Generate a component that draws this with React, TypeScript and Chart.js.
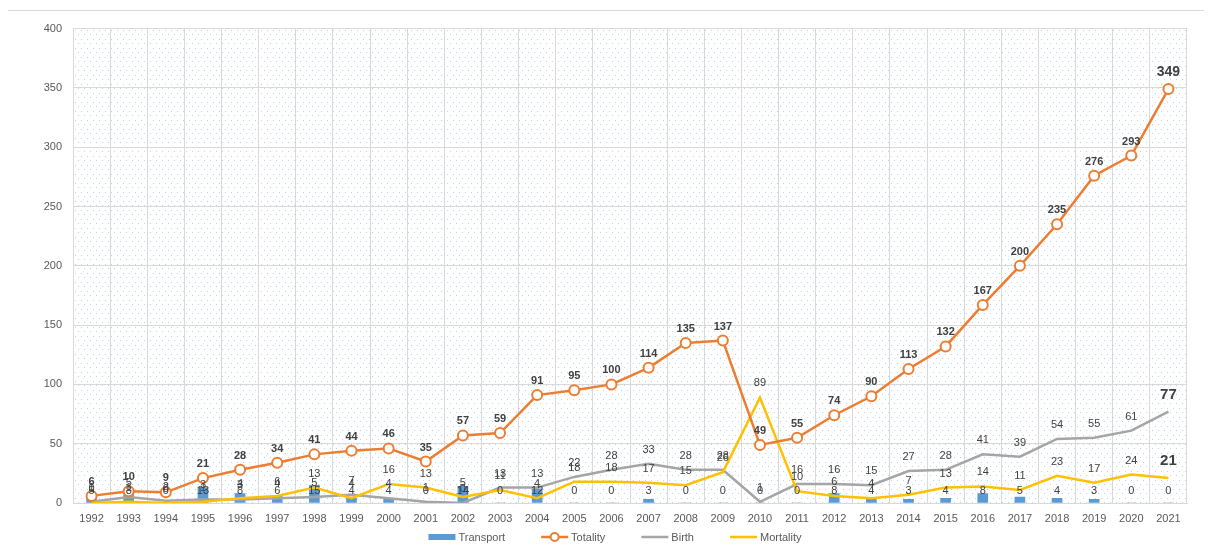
import { useEffect, useRef } from 'react';
import { Chart, registerables } from 'chart.js';

Chart.register(...registerables);

const years = ['1992','1993','1994','1995','1996','1997','1998','1999','2000','2001','2002','2003','2004','2005','2006','2007','2008','2009','2010','2011','2012','2013','2014','2015','2016','2017','2018','2019','2020','2021'];
const transport = [5, 8, 0, 13, 8, 6, 15, 4, 4, 0, 14, 0, 12, 0, 0, 3, 0, 0, 0, 0, 8, 4, 3, 4, 8, 5, 4, 3, 0, 0];
const totality = [6, 10, 9, 21, 28, 34, 41, 44, 46, 35, 57, 59, 91, 95, 100, 114, 135, 137, 49, 55, 74, 90, 113, 132, 167, 200, 235, 276, 293, 349];
const birth = [1, 5, 2, 3, 3, 4, 5, 7, 4, 1, 0, 13, 13, 22, 28, 33, 28, 28, 1, 16, 16, 15, 27, 28, 41, 39, 54, 55, 61, 77];
const mortality = [0, 1, 0, 1, 4, 6, 13, 4, 16, 13, 5, 11, 4, 18, 18, 17, 15, 26, 89, 10, 6, 4, 7, 13, 14, 11, 23, 17, 24, 21];
const yMin = 0;
const yMax = 400;
const yStep = 50;

const FONT = "'Liberation Sans', Arial, sans-serif";
const TEXT = '#404040';
const AXIS_TEXT = '#595959';
const GRID = '#d9d9d9';

export default function App() {
  const ref = useRef<HTMLCanvasElement | null>(null);

  useEffect(() => {
    document.body.style.overflow = 'hidden';
    const canvas = ref.current;
    if (!canvas) return;

    const tile = document.createElement('canvas');
    tile.width = 6;
    tile.height = 9;
    const tctx = tile.getContext('2d')!;
    tctx.fillStyle = 'rgba(91,155,213,0.42)';
    tctx.fillRect(1, 1, 1, 1);
    tctx.fillRect(4, 5, 1, 1);

    const bgPlugin = {
      id: 'dotBg',
      beforeDraw(chart: any) {
        const { ctx, chartArea } = chart;
        const pat = ctx.createPattern(tile, 'repeat');
        if (!pat) return;
        ctx.save();
        ctx.fillStyle = pat;
        ctx.fillRect(chartArea.left, chartArea.top, chartArea.right - chartArea.left, chartArea.bottom - chartArea.top);
        ctx.restore();
      },
    };

    const labelPlugin = {
      id: 'valueLabels',
      afterDatasetsDraw(chart: any) {
        const ctx = chart.ctx;
        const zeroY = chart.scales.y.getPixelForValue(0);
        const orderIdx = [0, 2, 3, 1];
        ctx.save();
        ctx.textAlign = 'center';
        ctx.textBaseline = 'middle';
        ctx.fillStyle = TEXT;
        orderIdx.forEach((i) => {
          const ds: any = chart.data.datasets[i];
          const meta = chart.getDatasetMeta(i);
          meta.data.forEach((el: any, j: number) => {
            const v = ds.data[j];
            const last = j === ds.data.length - 1 && ds.emphLast;
            let y: number;
            if (ds.type === 'bar') {
              y = zeroY - 12;
            } else {
              y = el.y - (last ? 17 : 14);
            }
            const weight = last || ds.boldLabels ? 'bold' : 'normal';
            const size = last ? (ds.boldLabels ? 14 : 15) : 11;
            ctx.font = `${weight} ${size}px ${FONT}`;
            ctx.fillText(String(v), el.x, y);
          });
        });
        ctx.restore();
      },
    };

    const legendPlugin = {
      id: 'customLegend',
      afterDraw(chart: any) {
        const ctx = chart.ctx;
        const y = 526;
        const order = [0, 1, 2, 3];
        ctx.save();
        ctx.font = `11px ${FONT}`;
        ctx.textBaseline = 'middle';
        ctx.textAlign = 'left';
        const iconW = 27;
        const gap = 3;
        const spacing = 36;
        const widths = order.map((i) => iconW + gap + ctx.measureText(chart.data.datasets[i].label).width);
        const total = widths.reduce((a: number, b: number) => a + b, 0) + spacing * (order.length - 1);
        let x = 607 - total / 2;
        order.forEach((i, k) => {
          const ds: any = chart.data.datasets[i];
          if (ds.type === 'bar') {
            ctx.fillStyle = ds.backgroundColor;
            ctx.fillRect(x, y - 3, iconW, 6);
          } else {
            ctx.strokeStyle = ds.borderColor;
            ctx.lineWidth = 2.5;
            ctx.beginPath();
            ctx.moveTo(x, y);
            ctx.lineTo(x + iconW, y);
            ctx.stroke();
            if (ds.pointRadius > 0) {
              ctx.fillStyle = '#ffffff';
              ctx.lineWidth = 2;
              ctx.beginPath();
              ctx.arc(x + iconW / 2, y, 4, 0, Math.PI * 2);
              ctx.fill();
              ctx.stroke();
            }
          }
          ctx.fillStyle = AXIS_TEXT;
          ctx.fillText(ds.label, x + iconW + gap, y + 1);
          x += widths[k] + spacing;
        });
        ctx.restore();
      },
    };

    const chart = new Chart(canvas, {
      type: 'bar',
      data: {
        labels: years,
        datasets: [
          {
            type: 'bar',
            label: 'Transport',
            data: transport,
            backgroundColor: '#5B9BD5',
            barThickness: 10,
            order: 3,
          } as any,
          {
            type: 'line',
            label: 'Totality',
            data: totality,
            borderColor: '#ED7D31',
            backgroundColor: '#ffffff',
            borderWidth: 2.5,
            pointRadius: 5,
            pointBorderWidth: 2,
            pointBackgroundColor: '#ffffff',
            pointBorderColor: '#ED7D31',
            tension: 0,
            order: 0,
            boldLabels: true,
            emphLast: true,
          } as any,
          {
            type: 'line',
            label: 'Birth',
            data: birth,
            borderColor: '#A5A5A5',
            borderWidth: 2.5,
            pointRadius: 0,
            tension: 0,
            order: 2,
            emphLast: true,
          } as any,
          {
            type: 'line',
            label: 'Mortality',
            data: mortality,
            borderColor: '#FFC000',
            borderWidth: 2.5,
            pointRadius: 0,
            tension: 0,
            order: 1,
            emphLast: true,
          } as any,
        ],
      },
      options: {
        animation: false,
        responsive: true,
        maintainAspectRatio: false,
        layout: { padding: { top: 16, right: 22, left: 0, bottom: 23 } },
        plugins: {
          legend: { display: false },
          tooltip: { enabled: false },
        },
        scales: {
          x: {
            offset: true,
            grid: { color: GRID, offset: true, drawTicks: false, lineWidth: 1 },
            border: { color: GRID },
            ticks: { color: AXIS_TEXT, font: { family: FONT, size: 11 }, padding: 9, maxRotation: 0, autoSkip: false },
            afterFit(scale: any) { scale.height = 24; },
          },
          y: {
            min: yMin,
            max: yMax,
            grid: { color: GRID, drawTicks: false, lineWidth: 1 },
            border: { color: GRID },
            ticks: { stepSize: yStep, color: AXIS_TEXT, font: { family: FONT, size: 11 }, padding: 11 },
            afterFit(scale: any) { scale.width = 65; },
          },
        },
      } as any,
      plugins: [bgPlugin, labelPlugin, legendPlugin],
    });

    return () => {
      chart.destroy();
    };
  }, []);

  return (
    <div
      style={{
        position: 'relative',
        top: 2,
        marginLeft: -1,
        width: 1203,
        height: 541,
        border: '1px solid #d9d9d9',
        boxSizing: 'border-box',
        background: '#ffffff',
      }}
    >
      <canvas ref={ref} style={{ display: 'block' }} />
    </div>
  );
}
